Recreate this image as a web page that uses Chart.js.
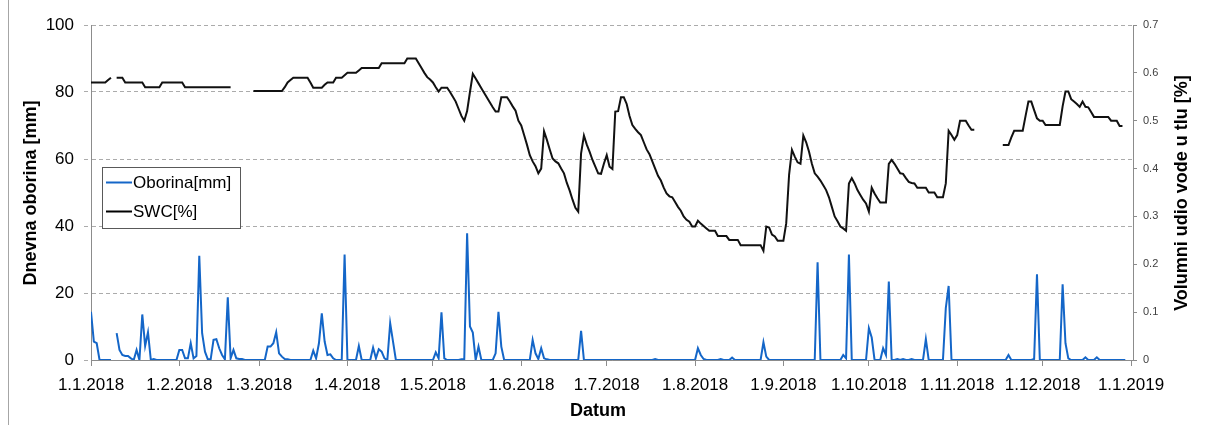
<!DOCTYPE html>
<html>
<head>
<meta charset="utf-8">
<script src="https://cdn.jsdelivr.net/npm/chart.js@4.4.1/dist/chart.umd.min.js"></script>
<style>
html, body { margin: 0; padding: 0; background: #fff; }
#wrap { width: 1207px; height: 425px; position: relative; }
</style>
</head>
<body>
<div id="wrap"><canvas id="chart"></canvas></div>
<script>
// x os: dan u godini od 1.1.2018 i oznake
const monthStarts = [0, 31, 59, 90, 120, 151, 181, 212, 243, 273, 304, 334, 365];
const monthLabels = ['1.1.2018', '1.2.2018', '1.3.2018', '1.4.2018', '1.5.2018', '1.6.2018',
    '1.7.2018', '1.8.2018', '1.9.2018', '1.10.2018', '1.11.2018', '1.12.2018', '1.1.2019'];
const rainTicks = [0, 20, 40, 60, 80, 100];
const swcTicks = [0, 0.1, 0.2, 0.3, 0.4, 0.5, 0.6, 0.7];

// dnevna oborina [mm], indeks = dan
const oborina = [
    14.4, 5.5, 5, 0, 0, 0, 0, 0, null, 8,
    3, 1.5, 1.2, 1.2, 0.5, 0, 3, 0, 13.6, 4.2,
    8.3, 0, 0.3, 0, 0, 0, 0, 0, 0, 0,
    0, 3, 3, 0.5, 0.5, 5, 0.5, 1.2, 31.1, 8,
    2.5, 0.2, 0.2, 6, 6.2, 3.5, 1.5, 0.2, 18.7, 0.5,
    3, 0.5, 0.3, 0.3, 0, 0, 0, 0, 0, 0,
    0, 0, 4, 4, 5, 8.3, 2, 1, 0.3, 0.2,
    0, 0, 0, 0, 0, 0, 0, 0, 2.8, 0.5,
    5, 13.9, 5.5, 1.5, 1.7, 0.5, 0, 0, 0, 31.5,
    0, 0, 0, 0, 4.2, 0, 0, 0, 0, 3.7,
    0.5, 3.2, 2.5, 0.5, 0, 11, 5.5, 0, 0, 0,
    0, 0, 0, 0, 0, 0, 0, 0, 0, 0,
    0, 2.3, 0.5, 14.2, 0.5, 0, 0, 0, 0, 0,
    0.2, 0.2, 37.8, 10, 8.2, 0, 4, 0, 0, 0,
    0, 0, 2, 14.4, 4, 0, 0, 0, 0, 0,
    0, 0, 0, 0, 0, 6, 2, 0.3, 3.5, 0.5,
    0.2, 0, 0, 0, 0, 0, 0, 0, 0, 0,
    0, 0, 8.7, 0, 0, 0, 0, 0, 0, 0,
    0, 0, 0, 0, 0, 0, 0, 0, 0, 0,
    0, 0, 0, 0, 0, 0, 0, 0, 0.3, 0,
    0, 0, 0, 0, 0, 0, 0, 0, 0, 0,
    0, 0, 0, 3.5, 1.5, 0.3, 0, 0, 0, 0,
    0, 0.3, 0, 0, 0, 0.7, 0, 0, 0, 0,
    0, 0, 0, 0, 0, 0, 5.3, 1, 0, 0,
    0, 0, 0, 0, 0, 0, 0, 0, 0, 0,
    0, 0, 0, 0, 0, 29.2, 0, 0, 0, 0,
    0, 0, 0, 0, 1.5, 0.5, 31.5, 0, 0, 0,
    0, 0, 0, 9.5, 6.7, 0, 0, 0, 3.5, 1.5,
    23.4, 0, 0, 0.3, 0, 0.3, 0, 0, 0.3, 0,
    0, 0, 0, 6.2, 0, 0, 0, 0, 0, 0,
    15.5, 22.1, 0, 0, 0, 0, 0, 0, 0, 0,
    0, 0, 0, 0, 0, 0, 0, 0, 0, 0,
    0, 0, 1.5, 0, 0, 0, 0, 0, 0, 0,
    0, 0.3, 25.6, 0, 0, 0, 0, 0, 0, 0,
    0, 22.6, 5, 0.5, 0, 0, 0, 0, 0, 0.8,
    0, 0, 0, 0.8, 0, 0, 0, 0, 0, 0,
    0, 0, 0, 0
];

// volumni udio vode u tlu, indeks = dan
const swc = [
    0.58, 0.58, 0.58, 0.58, 0.58, 0.58, 0.585, 0.59, null, 0.59,
    0.59, 0.59, 0.58, 0.58, 0.58, 0.58, 0.58, 0.58, 0.58, 0.57,
    0.57, 0.57, 0.57, 0.57, 0.57, 0.58, 0.58, 0.58, 0.58, 0.58,
    0.58, 0.58, 0.58, 0.57, 0.57, 0.57, 0.57, 0.57, 0.57, 0.57,
    0.57, 0.57, 0.57, 0.57, 0.57, 0.57, 0.57, 0.57, 0.57, 0.57,
    null, null, null, null, null, null, null, 0.562, 0.562, 0.562,
    0.562, 0.562, 0.562, 0.562, 0.562, 0.562, 0.562, 0.562, 0.57, 0.58,
    0.585, 0.59, 0.59, 0.59, 0.59, 0.59, 0.59, 0.58, 0.569, 0.569,
    0.569, 0.569, 0.575, 0.58, 0.58, 0.58, 0.59, 0.59, 0.59, 0.595,
    0.60, 0.60, 0.60, 0.60, 0.605, 0.61, 0.61, 0.61, 0.61, 0.61,
    0.61, 0.61, 0.62, 0.62, 0.62, 0.62, 0.62, 0.62, 0.62, 0.62,
    0.62, 0.63, 0.63, 0.63, 0.63, 0.62, 0.61, 0.60, 0.591, 0.586,
    0.58, 0.57, 0.561, 0.569, 0.569, 0.569, 0.56, 0.55, 0.54, 0.525,
    0.51, 0.50, 0.52, 0.56, 0.598, 0.588, 0.578, 0.568, 0.558, 0.548,
    0.538, 0.528, 0.519, 0.519, 0.549, 0.549, 0.549, 0.54, 0.53, 0.521,
    0.50, 0.49, 0.47, 0.45, 0.428, 0.415, 0.405, 0.39, 0.40, 0.478,
    0.46, 0.44, 0.421, 0.415, 0.411, 0.40, 0.39, 0.37, 0.354, 0.335,
    0.318, 0.31, 0.432, 0.469, 0.45, 0.435, 0.418, 0.404, 0.39, 0.389,
    0.41, 0.428, 0.404, 0.399, 0.519, 0.52, 0.549, 0.549, 0.535, 0.51,
    0.491, 0.483, 0.476, 0.47, 0.455, 0.44, 0.43, 0.415, 0.40, 0.385,
    0.375, 0.36, 0.348, 0.342, 0.34, 0.33, 0.32, 0.312, 0.30, 0.293,
    0.289, 0.279, 0.279, 0.291, 0.285, 0.28, 0.275, 0.27, 0.27, 0.27,
    0.259, 0.259, 0.259, 0.259, 0.251, 0.251, 0.251, 0.251, 0.24, 0.24,
    0.24, 0.24, 0.24, 0.24, 0.24, 0.24, 0.228, 0.279, 0.277, 0.262,
    0.258, 0.249, 0.249, 0.249, 0.286, 0.387, 0.439, 0.425, 0.413, 0.41,
    0.469, 0.455, 0.435, 0.41, 0.39, 0.383, 0.375, 0.365, 0.355, 0.34,
    0.32, 0.30, 0.29, 0.279, 0.275, 0.27, 0.369, 0.38, 0.369, 0.355,
    0.345, 0.335, 0.327, 0.31, 0.36, 0.348, 0.338, 0.329, 0.329, 0.329,
    0.41, 0.418, 0.41, 0.40, 0.39, 0.389, 0.38, 0.372, 0.37, 0.369,
    0.36, 0.36, 0.36, 0.36, 0.35, 0.35, 0.35, 0.34, 0.34, 0.34,
    0.369, 0.479, 0.47, 0.46, 0.47, 0.50, 0.50, 0.50, 0.49, 0.481,
    0.481, null, null, null, null, null, null, null, null, null,
    0.449, 0.449, 0.449, 0.465, 0.479, 0.479, 0.479, 0.479, 0.51, 0.54,
    0.54, 0.522, 0.505, 0.50, 0.50, 0.491, 0.491, 0.491, 0.491, 0.491,
    0.491, 0.53, 0.561, 0.561, 0.545, 0.54, 0.535, 0.529, 0.54, 0.529,
    0.528, 0.518, 0.508, 0.508, 0.508, 0.508, 0.508, 0.508, 0.50, 0.50,
    0.50, 0.489, 0.489
];

const FONT = '"Liberation Sans", Arial, sans-serif';
const BLUE = '#1466c8';
const AXIS = '#8c8c8c';
const GRID = '#ababab';

Chart.defaults.font.family = FONT;
Chart.defaults.color = '#000';

const toPoints = arr => arr.map((v, i) => ({ x: i, y: v }));

// naslovi osi, legenda i okvir
const decor = {
    id: 'decor',
    beforeDraw(chart) {
        const ctx = chart.ctx;
        ctx.save();
        ctx.fillStyle = '#fff';
        ctx.fillRect(0, 0, chart.width, chart.height);
        ctx.strokeStyle = '#a6a6a6';
        ctx.lineWidth = 1;
        ctx.beginPath();
        ctx.moveTo(8.5, 0);
        ctx.lineTo(8.5, chart.height);
        ctx.stroke();
        ctx.restore();
    },
    afterDraw(chart) {
        const ctx = chart.ctx;
        ctx.save();
        ctx.fillStyle = '#000';
        ctx.font = 'bold 18px ' + FONT;
        ctx.textAlign = 'center';
        ctx.textBaseline = 'middle';

        ctx.save();
        ctx.translate(31, 193);
        ctx.rotate(-Math.PI / 2);
        ctx.fillText('Dnevna oborina [mm]', 0, 0);
        ctx.restore();

        ctx.save();
        ctx.translate(1182, 193);
        ctx.rotate(-Math.PI / 2);
        ctx.fillText('Volumni udio vode u tlu [%]', 0, 0);
        ctx.restore();

        ctx.fillText('Datum', 598, 411);

        // legenda
        ctx.fillStyle = '#fff';
        ctx.fillRect(102.5, 167.5, 138, 61);
        ctx.strokeStyle = '#595959';
        ctx.lineWidth = 1;
        ctx.strokeRect(102.5, 167.5, 138, 61);
        const items = [['Oborina[mm]', BLUE, 182.5], ['SWC[%]', '#000', 211.5]];
        ctx.font = '17px ' + FONT;
        ctx.textAlign = 'left';
        items.forEach(([label, color, y]) => {
            ctx.strokeStyle = color;
            ctx.lineWidth = 2;
            ctx.beginPath();
            ctx.moveTo(106, y);
            ctx.lineTo(132, y);
            ctx.stroke();
            ctx.fillStyle = '#000';
            ctx.fillText(label, 133, y + 1);
        });
        ctx.restore();
    }
};

new Chart(document.getElementById('chart'), {
    type: 'line',
    data: {
        datasets: [
            {
                label: 'Oborina[mm]',
                data: toPoints(oborina),
                yAxisID: 'y',
                borderColor: BLUE,
                borderWidth: 2,
                pointRadius: 0,
                tension: 0,
                spanGaps: false
            },
            {
                label: 'SWC[%]',
                data: toPoints(swc),
                yAxisID: 'y2',
                borderColor: '#111',
                borderWidth: 2,
                pointRadius: 0,
                tension: 0,
                spanGaps: false
            }
        ]
    },
    options: {
        responsive: true,
        maintainAspectRatio: false,
        animation: false,
        layout: { padding: { top: 25, left: 0, right: 0, bottom: 0 } },
        plugins: {
            legend: { display: false },
            tooltip: { enabled: false }
        },
        scales: {
            x: {
                type: 'linear',
                min: 0,
                max: 365.7,
                afterBuildTicks: s => { s.ticks = monthStarts.map(v => ({ value: v })); },
                afterFit: s => { s.height = 65; },
                ticks: {
                    autoSkip: false,
                    maxRotation: 0,
                    minRotation: 0,
                    padding: 9,
                    font: { size: 17 },
                    callback: (v, i) => monthLabels[i]
                },
                grid: { drawOnChartArea: false, tickLength: 6, tickColor: AXIS },
                border: { display: true, color: AXIS, width: 1 }
            },
            y: {
                position: 'left',
                min: 0,
                max: 100,
                afterBuildTicks: s => { s.ticks = rainTicks.map(v => ({ value: v })); },
                afterFit: s => { s.width = 91; },
                ticks: { padding: 10, font: { size: 17 } },
                grid: { color: GRID, tickLength: 7, tickColor: GRID, tickBorderDash: [4, 3] },
                border: { display: true, color: AXIS, width: 1, dash: [4, 3] }
            },
            y2: {
                position: 'right',
                min: 0,
                max: 0.7,
                afterBuildTicks: s => { s.ticks = swcTicks.map(v => ({ value: v })); },
                afterFit: s => { s.width = 74; },
                ticks: {
                    padding: 6,
                    color: '#404040',
                    font: { size: 11 },
                    callback: v => v === 0 ? '0' : v.toFixed(1)
                },
                grid: { drawOnChartArea: false, tickLength: 4, tickColor: AXIS },
                border: { display: true, color: AXIS, width: 1 }
            }
        }
    },
    plugins: [decor]
});
</script>
</body>
</html>
